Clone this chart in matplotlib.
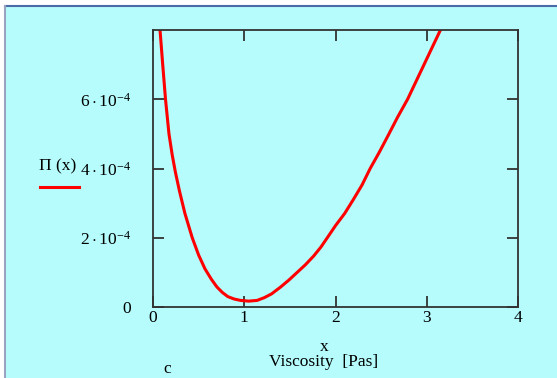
import matplotlib.pyplot as plt

plt.rcParams['font.family'] = 'Liberation Serif'
plt.rcParams['mathtext.fontset'] = 'custom'
plt.rcParams['mathtext.rm'] = 'Liberation Serif'
plt.rcParams['mathtext.it'] = 'Liberation Serif'

# viscosity [Pas]
visc = [0.077, 0.105, 0.137, 0.175, 0.21, 0.245, 0.29, 0.35, 0.43, 0.50, 0.57, 0.64,
        0.70, 0.76, 0.82, 0.89, 0.96, 1.05, 1.14, 1.22, 1.30, 1.40, 1.49, 1.58,
        1.67, 1.76, 1.84, 1.91, 2.00, 2.10, 2.19, 2.29, 2.38, 2.48, 2.58, 2.68,
        2.79, 2.88, 2.97, 3.06, 3.15]
# Pi(x), in units of 1e-4
pi_vals = [8.0, 7.05, 6.0, 5.0, 4.4, 3.9, 3.35, 2.7, 2.0, 1.5, 1.1, 0.8,
           0.58, 0.42, 0.30, 0.23, 0.19, 0.17, 0.19, 0.27, 0.38, 0.58, 0.78, 1.0,
           1.22, 1.47, 1.73, 2.0, 2.35, 2.7, 3.08, 3.52, 4.0, 4.47, 4.97, 5.48,
           6.0, 6.5, 7.0, 7.5, 8.0]

xticks = [0, 1, 2, 3, 4]
yticks = [0, 2e-4, 4e-4, 6e-4]
ylabels = ['0', r'$2\cdot10^{-4}$', r'$4\cdot10^{-4}$', r'$6\cdot10^{-4}$']

bg = '#b6fcfc'
fs = 12.5
fig = plt.figure(figsize=(5.57, 3.78), dpi=100)
fig.patch.set_facecolor('white')
# cyan panel with thin frame lines (top and left)
fig.patches.append(plt.Rectangle((5 / 557, 0), 1, 1 - 6 / 378, transform=fig.transFigure,
                                 facecolor=bg, edgecolor='none', zorder=-2))
fig.add_artist(plt.Line2D([5 / 557, 1], [1 - 6 / 378] * 2, color='#4a6aa8', lw=1.5))
fig.add_artist(plt.Line2D([5 / 557] * 2, [0, 1 - 6 / 378], color='#9aa4c0', lw=1.5))

ax = fig.add_axes([153 / 557, 1 - 307 / 378, 365 / 557, 277 / 378])
ax.set_facecolor(bg)
ax.plot(visc, [v * 1e-4 for v in pi_vals], color='#ff0000', lw=2.2,
        solid_joinstyle='round')

ax.set_xlim(0, 4)
ax.set_ylim(0, 8e-4)
ax.set_xticks(xticks)
ax.set_yticks(yticks)
ax.set_yticklabels(ylabels)
for s in ax.spines.values():
    s.set_color('#333333')
    s.set_linewidth(1.3)
ax.tick_params(direction='in', length=8, width=1.3, color='#333333',
               top=True, right=True, labelsize=fs)
ax.tick_params(axis='x', pad=2)
ax.tick_params(axis='y', pad=16)

fig.text(324 / 557, 1 - 347 / 378, 'x', ha='center', va='center', fontsize=fs)
fig.text(324 / 557, 1 - 362 / 378, 'Viscosity  [Pas]', ha='center', va='center', fontsize=fs)
fig.text(167 / 557, 1 - 369 / 378, 'c', ha='center', va='center', fontsize=fs)
fig.text(39 / 557, 1 - 166 / 378, 'Π (x)', ha='left', va='center', fontsize=fs)
fig.add_artist(plt.Line2D([40 / 557, 79 / 557], [1 - 187 / 378] * 2, color='#ff0000', lw=2.2))

fig.savefig('out.png', dpi=100, facecolor=fig.get_facecolor())
